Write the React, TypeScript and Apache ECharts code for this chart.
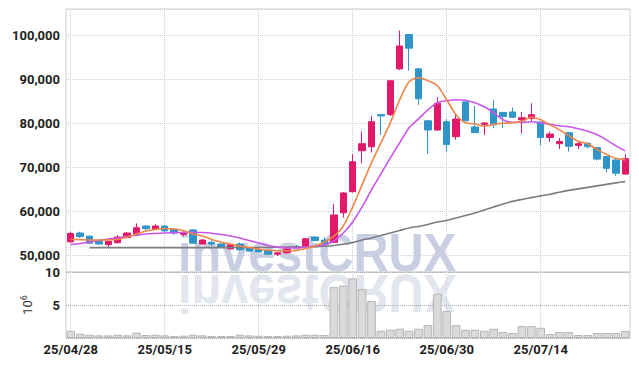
import React, { useEffect, useRef } from 'react';
import * as echarts from 'echarts';

const dates = [
  '25/04/28','25/04/29','25/04/30','25/05/02','25/05/07','25/05/08','25/05/09','25/05/12','25/05/13','25/05/14',
  '25/05/15','25/05/16','25/05/19','25/05/20','25/05/21','25/05/22','25/05/23','25/05/26','25/05/27','25/05/28',
  '25/05/29','25/05/30','25/06/02','25/06/04','25/06/05','25/06/09','25/06/10','25/06/11','25/06/12','25/06/13',
  '25/06/16','25/06/17','25/06/18','25/06/19','25/06/20','25/06/23','25/06/24','25/06/25','25/06/26','25/06/27',
  '25/06/30','25/07/01','25/07/02','25/07/03','25/07/04','25/07/07','25/07/08','25/07/09','25/07/10','25/07/11',
  '25/07/14','25/07/15','25/07/16','25/07/17','25/07/18','25/07/21','25/07/22','25/07/23','25/07/24','25/07/25',
];

const opens = [
  53100,55100,54400,53200,52500,52900,54100,55000,56700,56000,
  56700,56000,54800,55800,52600,53000,52600,51500,52600,51700,
  51300,51100,50300,50600,52000,52000,54200,53500,53000,59700,
  64500,73800,74700,82000,82000,92400,100200,92400,80600,78500,
  80400,77000,84900,79200,79800,83300,82500,82600,80800,81100,
  80300,76800,75400,77900,75000,75500,74500,72500,71700,68500,
];
const closes = [
  55000,54300,52800,52600,53200,54200,55100,56300,56100,56700,
  55600,55100,55100,52800,53500,52600,51900,52400,51300,51000,
  50800,50300,50600,51500,51900,53800,53400,52600,59200,64200,
  71300,75400,80400,81700,89700,97600,97100,85600,78500,84600,
  75200,81000,80600,77900,80100,79700,81600,81400,81300,82000,
  76800,77600,75900,74800,75400,74700,71900,69800,68700,72000,
];
const lows = [
  52900,54000,52600,52400,51600,52800,53900,54700,55600,55900,
  55300,54700,54300,52600,52400,52200,51700,51400,51100,50800,
  50700,50200,49900,50500,51700,51900,53200,52400,52800,58600,
  64300,70900,73400,77400,81700,92100,92000,84200,73100,78400,
  73600,76300,80500,77800,77400,78900,79000,81200,77700,80400,
  75000,75800,74200,73600,74200,74400,71600,68900,68100,68400,
];
const highs = [
  55400,55400,54500,53500,53300,54600,55300,57300,56800,57100,
  56900,56200,55600,56000,53800,53400,52800,52500,53000,51800,
  51600,51200,50800,51600,52400,53900,54300,54100,61700,64400,
  73000,78200,81700,82100,89800,101100,100200,92500,80700,86000,
  81000,82100,85000,84000,80300,85400,82600,83600,82600,84600,
  80400,78200,76700,78100,75900,75700,74600,72600,71900,73000,
];

const maShort = [
  53640,53600,53530,53530,53530,53640,54210,54890,55570,55920,
  56140,56030,55690,54890,54440,53640,53070,52620,52160,51820,
  51480,51180,51090,51090,51140,51590,52160,53070,54320,56710,
  61030,66040,71040,75590,80140,85380,89470,90380,89700,88560,
  85380,81960,80140,79920,79350,79800,80030,80140,80490,81400,
  80830,79690,78550,77190,75940,75370,74120,72980,72070,71730,
];
const maMid = [
  52500,52730,53070,53410,53710,53980,54320,54620,54890,55010,
  55120,55190,55230,55280,55230,55070,54780,54440,53980,53410,
  52840,52280,51930,51710,51710,51930,52160,52390,53300,55120,
  57620,61030,64900,68540,72180,75590,79010,81050,83100,84690,
  85150,85380,85260,84690,83780,82420,80830,80260,80260,80370,
  80140,79800,79460,79230,78780,78210,77410,76280,74910,73770,
];
const maLong = [
  null,null,51780,51780,51780,51780,51780,51780,51780,51780,
  51780,51780,51780,51790,51790,51790,51790,51800,51800,51810,
  51820,51840,51870,51890,51910,51930,51980,52090,52280,52550,
  52960,53530,53980,54550,55120,55690,56260,56600,57050,57620,
  57960,58530,59100,59670,60310,61030,61720,62290,62740,63150,
  63540,63920,64380,64790,65130,65470,65810,66150,66490,66790,
];

const volumes = [
  1.1,0.65,0.5,0.4,0.4,0.5,0.4,0.8,0.45,0.5,
  0.4,0.3,0.35,0.5,0.4,0.3,0.3,0.3,0.5,0.4,
  0.35,0.3,0.3,0.35,0.4,0.5,0.5,0.45,7.7,7.95,
  9.05,7.4,5.6,1.1,1.25,1.4,1.1,1.4,1.95,6.7,
  4.1,1.95,1.25,1.25,1.1,1.4,0.9,0.75,1.8,1.8,
  1.55,0.6,0.9,0.9,0.45,0.45,0.75,0.75,0.75,1.05,
];

const priceMin = 46250;
const priceMax = 106000;
const volMax = 10;
const watermark = 'investCRUX';

const UP = '#e2186b';
const DOWN = '#2f95c9';
const GRIDC = '#c8cdd9';
const LABEL = {
  color: '#222',
  fontFamily: 'Roboto',
  fontWeight: 'bold' as const,
  fontSize: 13,
};

export default function App() {
  const ref = useRef<HTMLDivElement>(null);
  useEffect(() => {
    const chart = echarts.init(ref.current!, null, { renderer: 'svg' });
    const candles = opens.map((o, i) => [o, closes[i], lows[i], highs[i]]);
    const option: any = {
      animation: false,
      backgroundColor: '#fff',
      grid: [
        { left: 66, right: 9, top: 9, height: 263, show: true, borderColor: '#cfcfcf', borderWidth: 1, outerBoundsMode: 'none' },
        { left: 66, right: 9, top: 272, height: 66, show: true, borderColor: '#cfcfcf', borderWidth: 1, outerBoundsMode: 'none' },
      ],
      graphic: [
        {
          type: 'text', z: -10, x: 178, y: 252.3, scaleX: 0.9,
          style: { text: watermark, x: 0, y: 0, font: 'bold 54px "Liberation Sans"', fill: '#c9cfe2', textVerticalAlign: 'middle', verticalAlign: 'middle' },
        },
        {
          type: 'text', z: -10, x: 178, y: 273, scaleX: 0.9, scaleY: -1,
          style: { text: watermark, x: 0, y: -20.7, font: 'bold 54px "Liberation Sans"', fill: '#e3e6ee', textVerticalAlign: 'middle', verticalAlign: 'middle' },
        },
      ],
      xAxis: [
        {
          type: 'category', gridIndex: 0, data: dates, boundaryGap: true,
          axisLine: { show: false }, axisTick: { show: false }, axisLabel: { show: false },
          splitLine: { show: true, interval: 9, alignWithLabel: true, lineStyle: { color: GRIDC, type: 'dotted', width: 1 } },
        },
        {
          type: 'category', gridIndex: 1, data: dates, boundaryGap: true,
          axisLine: { show: false }, axisTick: { show: false },
          axisLabel: { ...LABEL, interval: 9, margin: 5 },
          splitLine: { show: true, interval: 9, alignWithLabel: true, lineStyle: { color: GRIDC, type: 'dotted', width: 1 } },
        },
      ],
      yAxis: [
        {
          type: 'value', gridIndex: 0, min: priceMin, max: priceMax, scale: true,
          axisLine: { show: false }, axisTick: { show: false },
          axisLabel: {
            ...LABEL, margin: 6, showMinLabel: false, showMaxLabel: false,
            formatter: (v: number) => (v % 10000 === 0 ? v.toLocaleString('en-US') : ''),
          },
          splitLine: { show: true, lineStyle: { color: GRIDC, type: 'dotted', width: 1 } },
        },
        {
          type: 'value', gridIndex: 1, min: 0, max: volMax, interval: 5,
          axisLine: { show: false }, axisTick: { show: false },
          axisLabel: { ...LABEL, margin: 6, formatter: (v: number) => (v === 0 ? '' : String(v)) },
          splitLine: { show: true, lineStyle: { color: '#aaa', type: 'dotted', width: 1 } },
          name: '10{s|6}', nameLocation: 'middle', nameRotate: 90, nameGap: 28,
          nameTextStyle: {
            color: '#333', fontFamily: 'Roboto', fontSize: 13,
            rich: { s: { fontSize: 9, verticalAlign: 'top', color: '#333', fontFamily: 'Roboto', padding: [0, 0, 8, 0] } },
          },
        },
      ],
      series: [
        {
          type: 'candlestick', xAxisIndex: 0, yAxisIndex: 0, data: candles, barWidth: 7,
          itemStyle: { color: UP, color0: DOWN, borderColor: UP, borderColor0: DOWN, borderWidth: 1 },
          z: 3,
        },
        { type: 'line', xAxisIndex: 0, yAxisIndex: 0, data: maLong, showSymbol: false, smooth: 0.3, lineStyle: { color: '#7d7d7d', width: 1.6 }, z: 4 },
        { type: 'line', xAxisIndex: 0, yAxisIndex: 0, data: maMid, showSymbol: false, smooth: 0.3, lineStyle: { color: '#c955ea', width: 1.6 }, z: 4 },
        { type: 'line', xAxisIndex: 0, yAxisIndex: 0, data: maShort, showSymbol: false, smooth: 0.3, lineStyle: { color: '#ef8647', width: 1.6 }, z: 4 },
        {
          type: 'bar', xAxisIndex: 1, yAxisIndex: 1, data: volumes, barCategoryGap: '8%',
          itemStyle: { color: '#dadada', borderColor: '#b5b5b5', borderWidth: 1 },
        },
      ],
    };
    chart.setOption(option);
    return () => chart.dispose();
  }, []);
  return <div ref={ref} style={{ position: 'fixed', left: 0, top: 0, width: 639, height: 366 }} />;
}
